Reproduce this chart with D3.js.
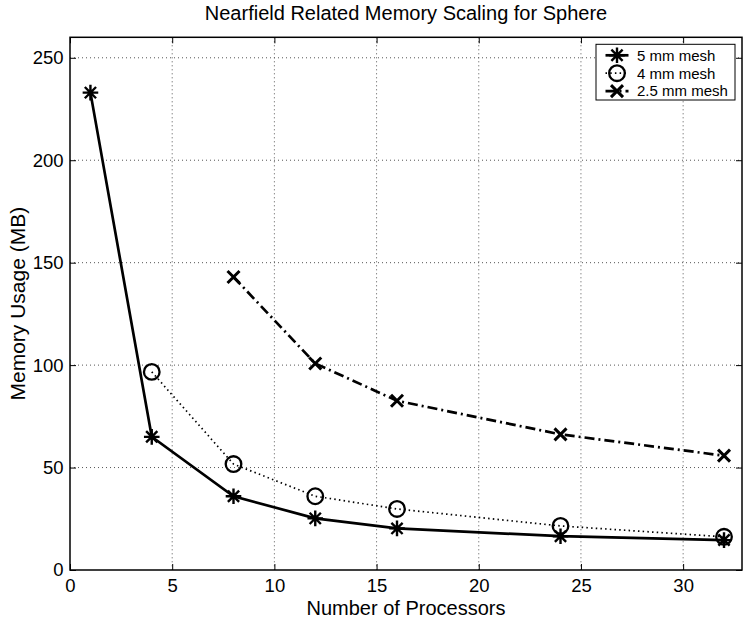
<!DOCTYPE html>
<html>
<head>
<meta charset="utf-8">
<script src="https://cdn.jsdelivr.net/npm/d3@7"></script>
<style>
  body { margin: 0; background: #fff; }
  svg { display: block; font-family: "Liberation Sans", Arial, sans-serif; }
</style>
</head>
<body>
<svg id="chart" width="744" height="619"></svg>
<script>
// processors for each mesh
const procs5 = [1, 4, 8, 12, 16, 24, 32];
const mem5 = [233, 65, 36, 25.2, 20.3, 16.5, 14.6];

const procs4 = [4, 8, 12, 16, 24, 32];
const mem4 = [96.7, 51.7, 36, 29.8, 21.5, 16.2];

const procs25 = [8, 12, 16, 24, 32];
const mem25 = [143, 100.8, 82.6, 66.2, 55.8];

const xTicks = [0, 5, 10, 15, 20, 25, 30];
const yTicks = [0, 50, 100, 150, 200, 250];
const seriesNames = ["5 mm mesh", "4 mm mesh", "2.5 mm mesh"];

const svg = d3.select("#chart");
const pLeft = 70, pRight = 742, pTop = 37.3, pBottom = 570;

const x = d3.scaleLinear().domain([0, 32.88]).range([pLeft, pRight]);
const y = d3.scaleLinear().domain([0, 260]).range([pBottom, pTop]);

// grid
const grid = svg.append("g")
  .attr("stroke", "#555")
  .attr("stroke-width", 1)
  .attr("stroke-dasharray", "1,3");
grid.selectAll(".gx").data(xTicks.filter(d => d > 0)).enter().append("line")
  .attr("x1", d => x(d)).attr("x2", d => x(d))
  .attr("y1", pTop).attr("y2", pBottom);
grid.selectAll(".gy").data(yTicks.filter(d => d > 0)).enter().append("line")
  .attr("x1", pLeft).attr("x2", pRight)
  .attr("y1", d => y(d)).attr("y2", d => y(d));

// axes, ticks inward on all sides
const tickLen = 6;
svg.append("g").attr("transform", `translate(0,${pBottom})`)
  .call(d3.axisBottom(x).tickValues(xTicks).tickSizeInner(-tickLen).tickSizeOuter(0).tickPadding(9))
  .call(g => g.select(".domain").remove());
svg.append("g").attr("transform", `translate(0,${pTop})`)
  .call(d3.axisTop(x).tickValues(xTicks).tickSizeInner(-tickLen).tickSizeOuter(0).tickFormat(""))
  .call(g => g.select(".domain").remove());
svg.append("g").attr("transform", `translate(${pLeft},0)`)
  .call(d3.axisLeft(y).tickValues(yTicks).tickSizeInner(-tickLen).tickSizeOuter(0).tickPadding(6.5))
  .call(g => g.select(".domain").remove());
svg.append("g").attr("transform", `translate(${pRight},0)`)
  .call(d3.axisRight(y).tickValues(yTicks).tickSizeInner(-tickLen).tickSizeOuter(0).tickFormat(""))
  .call(g => g.select(".domain").remove());

svg.selectAll(".tick line").attr("stroke", "#000").attr("stroke-width", 1);
svg.selectAll(".tick text")
  .attr("font-size", 18.5)
  .attr("font-family", "Liberation Sans, Arial, sans-serif")
  .attr("fill", "#000");

svg.append("rect")
  .attr("x", pLeft).attr("y", pTop)
  .attr("width", pRight - pLeft).attr("height", pBottom - pTop)
  .attr("fill", "none").attr("stroke", "#000").attr("stroke-width", 1.5);

// markers
function star(g, r) {
  const d = r * 0.72;
  g.append("path")
    .attr("d", `M${-r},0L${r},0M0,${-r}L0,${r}M${-d},${-d}L${d},${d}M${-d},${d}L${d},${-d}`)
    .attr("stroke", "#000").attr("stroke-width", 2.4).attr("fill", "none");
}
function circ(g, r) {
  g.append("circle").attr("r", r)
    .attr("stroke", "#000").attr("stroke-width", 2.3).attr("fill", "none");
}
function cross(g, r) {
  g.append("path")
    .attr("d", `M${-r},${-r}L${r},${r}M${-r},${r}L${r},${-r}`)
    .attr("stroke", "#000").attr("stroke-width", 3).attr("fill", "none");
}

const series = [
  { xs: procs5, ys: mem5, dash: null, width: 2.7, mark: star, size: 7.8 },
  { xs: procs4, ys: mem4, dash: "1.5,3.2", width: 1.7, mark: circ, size: 7.8 },
  { xs: procs25, ys: mem25, dash: "10,4,2,4", width: 2.7, mark: cross, size: 6 }
];

const line = d3.line().x(d => x(d[0])).y(d => y(d[1]));

series.forEach(s => {
  const pts = s.xs.map((v, i) => [v, s.ys[i]]);
  svg.append("path")
    .attr("d", line(pts))
    .attr("fill", "none")
    .attr("stroke", "#000")
    .attr("stroke-width", s.width)
    .attr("stroke-dasharray", s.dash);
  pts.forEach(p => {
    const g = svg.append("g").attr("transform", `translate(${x(p[0])},${y(p[1])})`);
    s.mark(g, s.size);
  });
});

// legend
const lg = svg.append("g");
lg.append("rect")
  .attr("x", 596).attr("y", 44.3).attr("width", 139).attr("height", 55.7)
  .attr("fill", "#fff").attr("stroke", "#000").attr("stroke-width", 1);
series.forEach((s, i) => {
  const yy = 55.3 + i * 17.9;
  lg.append("line")
    .attr("x1", 605.5).attr("x2", 628.5).attr("y1", yy).attr("y2", yy)
    .attr("stroke", "#000").attr("stroke-width", s.width)
    .attr("stroke-dasharray", s.dash);
  const g = lg.append("g").attr("transform", `translate(617,${yy})`);
  s.mark(g, s.size);
  lg.append("text")
    .attr("x", 637).attr("y", yy + 5.3)
    .attr("font-size", 15)
    .text(seriesNames[i]);
});

// labels
svg.append("text")
  .attr("x", (pLeft + pRight) / 2).attr("y", 20)
  .attr("text-anchor", "middle")
  .attr("font-size", 20)
  .text("Nearfield Related Memory Scaling for Sphere");

svg.append("text")
  .attr("x", (pLeft + pRight) / 2).attr("y", 614.5)
  .attr("text-anchor", "middle")
  .attr("font-size", 20)
  .text("Number of Processors");

svg.append("text")
  .attr("transform", `translate(25,${(pTop + pBottom) / 2}) rotate(-90)`)
  .attr("text-anchor", "middle")
  .attr("font-size", 21)
  .text("Memory Usage (MB)");
</script>
</body>
</html>
